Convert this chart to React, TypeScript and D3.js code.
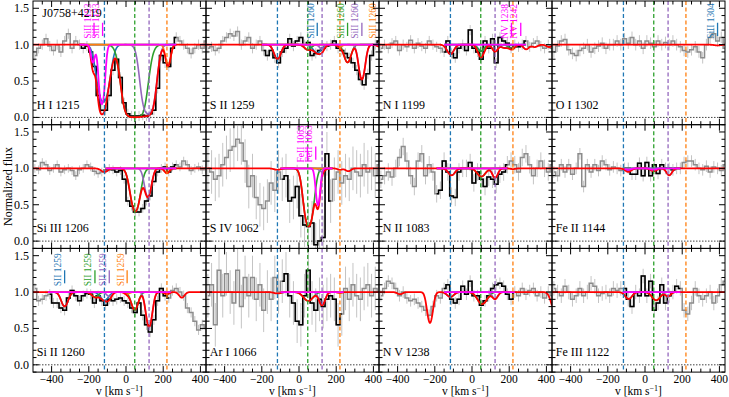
import React from 'react';
import * as d3 from 'd3';

// ---------- data ----------
const VELOCITY_BINS = d3.range(-490, 431, 20); // bin centres, km/s
const MODEL_V = d3.range(-500, 431, 2);
const COMPONENT_VELOCITIES = [-116, 47, 124, 220];
const COMPONENT_KEYS = ['blue', 'green', 'purple', 'orange'];
const X_TICKS = [-400, -200, 0, 200, 400];
const X_TICK_LABELS = ['\u2212400', '\u2212200', '0', '200', '400'];
const Y_TICKS = [0, 0.5, 1.0, 1.5];
const Y_TICK_LABELS = ['0.0', '0.5', '1.0', '1.5'];
const QSO_NAME = 'J0758+4219';

const LABELS = ['H I 1215', 'S II 1259', 'N I 1199', 'O I 1302', 'Si III 1206', 'S IV 1062', 'N II 1083', 'Fe II 1144', 'Si II 1260', 'Ar I 1066', 'N V 1238', 'Fe III 1122'];

const FLUX_HI_1215 = [0.85,0.95,1.0,1.08,0.98,0.92,1.0,0.9,1.05,1.15,0.95,1.05,1.0,0.95,0.98,0.9,0.7,0.3,0.1,0.1,0.3,0.65,0.8,0.55,0.2,0.05,0.02,0.02,0.02,0.03,0.02,0.05,0.1,0.4,0.85,0.75,0.7,0.95,1.1,1.05,1.0,0.95,0.88,0.95,1.0,0.95,1.05];
const FLUX_SII_1259 = [0.95,0.97,0.92,0.95,1.05,1.1,1.15,1.12,1.18,1.0,1.05,1.1,0.95,1.0,1.05,0.92,0.85,0.92,0.82,0.75,0.9,0.95,1.08,0.98,1.05,1.1,1.0,1.03,0.85,0.88,0.92,0.95,0.98,1.0,1.05,0.95,0.92,0.88,0.82,0.75,0.65,0.52,0.45,0.6,0.85,1.0,1.05];
const FLUX_NI_1199 = [0.95,1.0,0.95,1.02,1.05,0.92,1.0,0.97,1.06,0.95,1.02,0.98,0.95,1.05,1.0,0.97,0.95,0.9,1.05,0.88,0.82,0.95,1.0,0.92,1.2,0.95,0.9,0.8,1.05,0.95,1.08,0.75,1.1,1.05,1.02,0.95,1.0,0.97,1.0,1.05,0.97,1.02,1.05,0.98,0.95,1.0,0.95];
const FLUX_OI_1302 = [0.9,0.98,1.05,1.07,0.93,0.88,0.85,0.92,0.95,1.0,0.9,0.95,0.98,1.02,0.95,1.0,1.0,1.05,1.0,1.08,1.02,1.1,1.0,1.05,0.95,1.05,1.02,0.97,1.05,1.0,1.03,1.0,1.05,1.0,0.97,0.92,0.9,0.93,0.97,0.9,0.82,1.0,1.1,1.15,1.05,1.1,0.95];
const FLUX_SIIII_1206 = [1.0,0.98,1.08,1.05,0.97,1.0,1.05,0.95,0.98,1.0,0.97,0.9,0.98,1.0,1.05,1.02,0.96,0.93,0.95,0.98,1.0,0.98,0.95,0.97,0.85,0.55,0.48,0.4,0.4,0.45,0.55,0.62,0.82,0.95,1.0,1.02,0.95,1.02,1.05,1.02,1.1,1.05,0.97,1.0,1.02,0.98,1.0];
const FLUX_SIV_1062 = [1.0,0.95,0.85,0.9,1.05,1.15,1.25,1.3,1.4,1.35,1.1,0.75,0.9,0.6,0.5,0.45,0.55,0.8,0.7,0.95,0.85,0.9,0.55,0.6,0.75,0.35,0.22,0.2,0.25,-0.05,0.0,0.05,1.2,0.55,0.85,0.95,0.8,0.9,0.85,1.0,0.95,0.9,1.05,0.95,1.0,0.9,1.05];
const FLUX_NII_1083 = [0.85,0.9,0.95,0.88,1.0,1.15,1.3,1.1,0.9,0.75,1.1,1.2,0.9,1.05,0.95,0.65,0.7,1.1,0.95,0.62,0.6,0.95,1.0,1.0,1.08,0.8,0.95,0.85,0.75,0.88,0.85,0.78,0.92,0.95,1.05,1.1,1.05,0.95,1.15,1.2,1.05,0.9,1.0,1.1,1.0,0.95,1.05];
const FLUX_FEII_1144 = [0.95,0.9,1.05,0.95,1.05,0.92,1.0,1.2,0.75,1.05,0.95,1.05,0.97,1.1,1.05,0.98,1.02,1.0,0.97,1.0,1.0,0.92,0.92,1.07,0.9,1.08,0.9,1.05,0.93,1.05,1.0,1.0,0.98,1.0,1.0,1.08,1.1,1.1,1.05,1.0,0.98,1.03,0.95,1.02,1.0,0.97,1.05];
const FLUX_SIII_1260 = [1.05,0.88,0.9,0.95,0.97,0.85,0.85,0.78,0.75,0.92,1.02,0.95,0.88,0.95,0.98,0.97,0.85,0.95,0.88,0.82,0.9,0.88,0.9,0.92,0.88,0.85,0.78,0.72,0.85,0.68,0.55,0.45,0.62,0.88,1.05,0.95,0.92,1.02,1.05,1.0,0.95,0.78,0.72,0.6,0.48,0.55,0.5];
const FLUX_ARI_1066 = [0.95,1.1,0.55,1.3,0.95,1.25,1.0,0.85,1.3,0.8,1.2,0.95,1.2,0.9,1.1,0.75,1.0,0.9,1.2,1.0,1.15,1.25,0.95,0.85,0.6,0.55,0.95,1.3,0.85,0.75,0.9,0.8,0.9,0.95,0.9,0.55,0.7,1.05,0.9,1.1,0.95,0.9,1.05,1.1,0.95,1.05,1.0];
const FLUX_NV_1238 = [0.95,1.05,1.15,1.12,1.05,0.95,1.0,0.92,0.88,0.9,0.85,0.8,0.75,0.68,0.8,0.95,0.92,1.05,1.1,0.9,0.85,0.9,1.08,0.97,1.15,0.95,0.95,0.82,0.88,0.95,1.05,1.1,1.12,1.08,0.97,0.9,1.0,0.95,1.05,0.97,1.02,1.05,0.95,1.0,0.92,1.0,0.95];
const FLUX_FEIII_1122 = [1.05,1.0,0.95,1.08,1.0,0.9,0.95,1.05,0.95,1.0,1.12,1.08,0.95,0.98,1.0,0.95,1.05,1.02,1.05,1.05,0.9,0.8,1.0,0.95,1.22,0.95,1.15,0.75,0.85,1.1,0.85,0.95,1.0,1.08,1.05,0.75,0.7,0.85,1.05,0.95,0.9,0.95,1.0,0.85,0.95,1.1,1.15];

const ERRORS = [0.07, 0.07, 0.07, 0.08, 0.06, 0.3, 0.12, 0.08, 0.07, 0.3, 0.08, 0.1];

// fitted components: [component, centre v (km/s), peak optical depth, width b (km/s)]
type Comp = [string, number, number, number];
const FIT_HI_1215: Comp[] = [['blue', -122, 1.55, 38], ['green', 45, 6, 52], ['purple', 120, 3.0, 38], ['orange', 226, 0.35, 18], ['mag', -178, 0.28, 14], ['mag', -130, 1.7, 18]];
const FIT_SII_1259: Comp[] = [['blue', -116, 0.22, 25], ['green', 47, 0.07, 25], ['purple', 124, 0.06, 20], ['orange', 220, 0.03, 18], ['blue', 98, 0.12, 30], ['green', 261, 0.28, 25], ['purple', 338, 0.65, 22], ['orange', 434, 0.03, 18]];
const FIT_NI_1199: Comp[] = [['blue', -116, 0.14, 25], ['blue', 51, 0.09, 25], ['blue', 174, 0.045, 25], ['green', 47, 0.1, 22], ['green', 214, 0.066, 22], ['green', 337, 0.033, 22], ['purple', 124, 0.1, 20], ['purple', 291, 0.066, 20], ['purple', 414, 0.033, 20]];
const FIT_OI_1302: Comp[] = [['blue', 390, 0.01, 25]];
const FIT_SIIII_1206: Comp[] = [['blue', -116, 0.05, 25], ['green', 50, 0.9, 32], ['purple', 118, 0.5, 24], ['orange', 220, 0.07, 18]];
const FIT_SIV_1062: Comp[] = [['blue', -116, 0.02, 25], ['green', 52, 1.6, 30], ['purple', 124, 0.05, 20], ['orange', 220, 0.02, 18], ['mag', 102, 0.7, 15], ['other', 265, 0.04, 20]];
const FIT_NII_1083: Comp[] = [['blue', -110, 0.1, 25], ['green', 50, 0.12, 30], ['purple', 124, 0.14, 20], ['orange', 220, 0.01, 18]];
const FIT_FEII_1144: Comp[] = [['blue', -90, 0.03, 25], ['green', 50, 0.02, 25], ['purple', 130, 0.1, 20], ['mag', -90, 0.02, 20], ['mag', 45, 0.02, 20]];
const FIT_SIII_1260: Comp[] = [['blue', -116, 0.12, 30], ['green', 47, 0.28, 25], ['purple', 124, 0.65, 22], ['orange', 220, 0.03, 18], ['blue', -330, 0.22, 25], ['green', -167, 0.07, 25], ['purple', -90, 0.06, 20], ['orange', 6, 0.03, 18], ['other', 300, 0.08, 20]];
const FIT_ARI_1066: Comp[] = [['blue', -116, 0.02, 25], ['green', 50, 0.13, 35], ['purple', 124, 0.2, 22], ['orange', 220, 0.01, 18]];
const FIT_NV_1238: Comp[] = [['blue', -116, 0.07, 25], ['green', 55, 0.18, 35], ['purple', 124, 0.1, 20], ['other', -387, 0.03, 20], ['other', -226, 0.55, 20], ['other', 445, 0.3, 25]];
const FIT_FEIII_1122: Comp[] = [['blue', -88, 0.1, 25], ['green', 60, 0.12, 30], ['purple', 124, 0.06, 20]];

// fit windows (black data, component curves)
const WIN_HI_1215 = [-250, 270];
const WIN_SII_1259 = [-200, 430];
const WIN_NI_1199 = [-150, 290];
const WIN_OI_1302: number[] | null = null;
const WIN_SIIII_1206 = [-110, 270];
const WIN_SIV_1062 = [-100, 180];
const WIN_NII_1083 = [-190, 190];
const WIN_FEII_1144 = [-110, 190];
const WIN_SIII_1260 = [-420, 240];
const WIN_ARI_1066 = [-100, 240];
const WIN_NV_1238 = [-150, 230];
const WIN_FEIII_1122 = [-120, 190];

// line identifications: [text, component, v]
type Mark = [string, string, number];
const MARKS_HI_1215: Mark[] = [['SiII 1193', 'mag', -172], ['SiII 1193', 'mag', -126]];
const MARKS_SII_1259: Mark[] = [['SiII 1260', 'blue', 98], ['SiII 1260', 'green', 261], ['SiII 1260', 'purple', 338], ['SiII 1260', 'orange', 434]];
const MARKS_NI_1199: Mark[] = [['NV 1238', 'mag', 212], ['NV 1242', 'mag', 262]];
const MARKS_OI_1302: Mark[] = [['SiII 1304', 'blue', 390]];
const MARKS_SIV_1062: Mark[] = [['FeII 1063', 'mag', 45], ['FeII 1063', 'mag', 90]];
const MARKS_SIII_1260: Mark[] = [['SII 1259', 'blue', -330], ['SII 1259', 'green', -167], ['SII 1259', 'purple', -90], ['SII 1259', 'orange', 6]];

const FLUXES = [FLUX_HI_1215, FLUX_SII_1259, FLUX_NI_1199, FLUX_OI_1302, FLUX_SIIII_1206, FLUX_SIV_1062, FLUX_NII_1083, FLUX_FEII_1144, FLUX_SIII_1260, FLUX_ARI_1066, FLUX_NV_1238, FLUX_FEIII_1122];
const FITS = [FIT_HI_1215, FIT_SII_1259, FIT_NI_1199, FIT_OI_1302, FIT_SIIII_1206, FIT_SIV_1062, FIT_NII_1083, FIT_FEII_1144, FIT_SIII_1260, FIT_ARI_1066, FIT_NV_1238, FIT_FEIII_1122];
const WINDOWS = [WIN_HI_1215, WIN_SII_1259, WIN_NI_1199, WIN_OI_1302, WIN_SIIII_1206, WIN_SIV_1062, WIN_NII_1083, WIN_FEII_1144, WIN_SIII_1260, WIN_ARI_1066, WIN_NV_1238, WIN_FEIII_1122];
const MARKS: Mark[][] = [MARKS_HI_1215, MARKS_SII_1259, MARKS_NI_1199, MARKS_OI_1302, [], MARKS_SIV_1062, [], [], MARKS_SIII_1260, [], [], []];

// ---------- layout / style ----------
const W = 729, H = 397;
const COL_LEFT = [33, 206, 379, 552];
const PW = 173;
const ROW_TOP = [1, 124.7, 248.4];
const PH = 123.7;
const FONT = '"Liberation Serif", "Times New Roman", serif';
const COLORS: Record<string, string> = {
  blue: '#1f77b4', green: '#2ca02c', purple: '#9467bd', orange: '#ff7f0e', mag: '#ff00ff', red: '#ff0000',
};

function modelFlux(comps: Comp[], v: number) {
  let tau = 0;
  for (const [, v0, t0, b] of comps) tau += t0 * Math.exp(-(((v - v0) / b) ** 2));
  return Math.exp(-tau);
}

function Panel({ idx }: { idx: number }) {
  const col = idx % 4, row = Math.floor(idx / 4);
  const left = COL_LEFT[col], top = ROW_TOP[row];
  const x = d3.scaleLinear().domain([-500, 430]).range([left, left + PW]);
  const y = d3.scaleLinear().domain([-0.1, 1.6]).range([top + PH, top]);
  const flux = FLUXES[idx];
  const err = ERRORS[idx];
  const comps = FITS[idx];
  const win = WINDOWS[idx];
  const clipId = `clip${idx}`;

  const pts: [number, number][] = VELOCITY_BINS.map((v, i) => [v, flux[i]]);
  const stepLine = d3.line<[number, number]>().x(d => x(d[0])).y(d => y(d[1])).curve(d3.curveStep);
  const smooth = d3.line<[number, number]>().x(d => x(d[0])).y(d => y(d[1]));

  const winPts = win ? pts.filter(p => p[0] >= win[0] && p[0] <= win[1]) : [];
  const winV = win ? MODEL_V.filter(v => v >= win[0] && v <= win[1]) : [];

  const keysPresent = COMPONENT_KEYS.filter(k => comps.some(c => c[0] === k));
  const magComps = comps.filter(c => c[0] === 'mag');

  const xMinor = d3.range(-450, 430, 50).filter(v => v % 200 !== 0);
  const yMinor = d3.range(-1, 16).map(i => i / 10).filter(v => Math.abs(v * 2 - Math.round(v * 2)) > 1e-6);
  const MJ = 6, MN = 3.5;

  return (
    <g>
      <defs>
        <clipPath id={clipId}>
          <rect x={left} y={top} width={PW} height={PH} />
        </clipPath>
      </defs>
      <g clipPath={`url(#${clipId})`}>
        {pts.map((p, i) => (
          <line key={'e' + i} x1={x(p[0])} x2={x(p[0])} y1={y(p[1] - err)} y2={y(p[1] + err)} stroke="#c4c4c4" strokeWidth={1} />
        ))}
        <path d={stepLine(pts) || ''} fill="none" stroke="#8c8c8c" strokeWidth={1.5} />
        {winPts.length > 1 && <path d={stepLine(winPts) || ''} fill="none" stroke="#000" strokeWidth={1.5} />}
        <line x1={left} x2={left + PW} y1={y(0)} y2={y(0)} stroke="#444" strokeWidth={1} strokeDasharray="1.5,1.5" />
        {win && keysPresent.map(k => {
          const cs = comps.filter(c => c[0] === k);
          const d = smooth(winV.map(v => [v, modelFlux(cs, v)] as [number, number]));
          return <path key={k} d={d || ''} fill="none" stroke={COLORS[k]} strokeWidth={1.6} />;
        })}
        <path d={smooth(MODEL_V.map(v => [v, modelFlux(comps, v)] as [number, number])) || ''} fill="none" stroke={COLORS.red} strokeWidth={1.8} />
        {win && (
          <path d={smooth(winV.map(v => [v, modelFlux(magComps, v)] as [number, number])) || ''} fill="none" stroke={COLORS.mag} strokeWidth={1.8} />
        )}
        {COMPONENT_VELOCITIES.map((v, i) => (
          <line key={'d' + i} x1={x(v)} x2={x(v)} y1={top} y2={top + PH} stroke={COLORS[COMPONENT_KEYS[i]]} strokeWidth={1.3} strokeDasharray="4,2.5" />
        ))}
        {MARKS[idx].map((m, i) => (
          <g key={'m' + i}>
            <line x1={x(m[2])} x2={x(m[2])} y1={y(1.12)} y2={y(1.3)} stroke={COLORS[m[1]]} strokeWidth={1.3} />
            <text transform={`translate(${x(m[2]) - 3.5},${y(1.08)}) rotate(-90)`} fontSize={9.5} fill={COLORS[m[1]]} fontFamily={FONT}>{m[0]}</text>
          </g>
        ))}
        <text x={x(-480)} y={y(0.12)} fontSize={12} fontFamily={FONT} fill="#000">{LABELS[idx]}</text>
        {idx === 0 && <text x={x(-450)} y={y(1.38)} fontSize={12} fontFamily={FONT} fill="#000">{QSO_NAME}</text>}
      </g>
      {X_TICKS.map(v => (
        <g key={'xt' + v}>
          <line x1={x(v)} x2={x(v)} y1={top + PH} y2={top + PH - MJ} stroke="#000" />
          <line x1={x(v)} x2={x(v)} y1={top} y2={top + MJ} stroke="#000" />
        </g>
      ))}
      {xMinor.map(v => (
        <g key={'xm' + v}>
          <line x1={x(v)} x2={x(v)} y1={top + PH} y2={top + PH - MN} stroke="#000" />
          <line x1={x(v)} x2={x(v)} y1={top} y2={top + MN} stroke="#000" />
        </g>
      ))}
      {Y_TICKS.map(v => (
        <g key={'yt' + v}>
          <line x1={left} x2={left + MJ} y1={y(v)} y2={y(v)} stroke="#000" />
          <line x1={left + PW} x2={left + PW - MJ} y1={y(v)} y2={y(v)} stroke="#000" />
        </g>
      ))}
      {yMinor.map(v => (
        <g key={'ym' + v}>
          <line x1={left} x2={left + MN} y1={y(v)} y2={y(v)} stroke="#000" />
          <line x1={left + PW} x2={left + PW - MN} y1={y(v)} y2={y(v)} stroke="#000" />
        </g>
      ))}
      <rect x={left} y={top} width={PW} height={PH} fill="none" stroke="#000" strokeWidth={1} />
      {col === 0 && Y_TICKS.map((v, i) => (
        <text key={'yl' + i} x={left - 4} y={y(v) + 4} fontSize={12} fontFamily={FONT} textAnchor="end">{Y_TICK_LABELS[i]}</text>
      ))}
      {row === 2 && X_TICKS.map((v, i) => (
        <text key={'xl' + i} x={x(v)} y={top + PH + 10.5} fontSize={11.5} fontFamily={FONT} textAnchor="middle">{X_TICK_LABELS[i]}</text>
      ))}
      {row === 2 && (
        <text x={left + PW / 2} y={H - 2.5} fontSize={11.5} fontFamily={FONT} textAnchor="middle">
          v [km s<tspan dy={-4} fontSize={8}>{'\u22121'}</tspan><tspan dy={4}>]</tspan>
        </text>
      )}
    </g>
  );
}

export default function App() {
  return (
    <svg width={W} height={H} viewBox={`0 0 ${W} ${H}`} style={{ position: 'absolute', left: 0, top: 0, background: '#fff' }}>
      <rect x={0} y={0} width={W} height={H} fill="#fff" />
      {LABELS.map((_, i) => <Panel key={i} idx={i} />)}
      <text transform={`translate(12,186.5) rotate(-90)`} fontSize={12} fontFamily={FONT} textAnchor="middle">Normalized flux</text>
    </svg>
  );
}
